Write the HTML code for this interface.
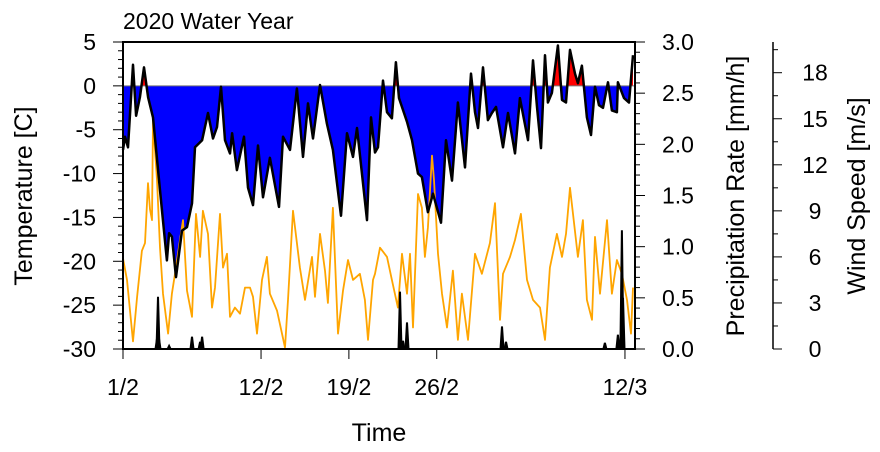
<!DOCTYPE html>
<html><head><meta charset="utf-8"><style>
html,body{margin:0;padding:0;background:#fff;}
svg{display:block;font-family:"Liberation Sans",Arial,sans-serif;}
</style></head><body>
<svg id="chart" width="880" height="452" viewBox="0 0 880 452" xmlns="http://www.w3.org/2000/svg">
<text x="123" y="29" font-size="23">2020 Water Year</text>
<g id="plot"></g>
<g id="axes"></g>
<text transform="translate(32,196) rotate(-90)" text-anchor="middle" font-size="25">Temperature [C]</text>
<text transform="translate(744,196) rotate(-90)" text-anchor="middle" font-size="25">Precipitation Rate [mm/h]</text>
<text transform="translate(865,196) rotate(-90)" text-anchor="middle" font-size="25">Wind Speed [m/s]</text>
<text x="379" y="441" text-anchor="middle" font-size="25">Time</text>
</svg>
<script>
const tempDays=[0,0.16,0.4,0.8,1.04,1.35,1.67,2.0,2.39,2.95,3.5,3.67,3.9,4.22,4.7,5.1,5.5,5.74,6.3,6.77,7.17,7.49,7.81,8.13,8.53,8.69,9.08,9.64,9.96,10.36,10.76,11.16,11.71,12.43,12.75,13.31,13.86,14.34,14.74,15.14,15.7,16.25,16.73,17.37,17.85,18.33,18.65,19.44,19.76,20.08,20.32,20.72,21.04,21.43,21.75,21.99,22.63,23.03,23.51,23.82,24.3,24.7,25.34,25.74,26.22,26.69,27.25,27.73,28.05,28.29,28.69,29.08,29.4,29.72,30.28,30.68,31.24,31.63,32.27,32.67,32.99,33.31,33.63,33.86,34.18,34.66,34.98,35.3,35.62,36.02,36.25,36.57,36.97,37.29,37.61,37.93,38.25,38.65,38.96,39.36,39.44,39.92,40.32,40.64];
const tempValues=[-7.3,-5.8,-7.0,2.4,-3.4,-1.3,2.1,-1.3,-3.6,-11.9,-19.9,-16.8,-17.2,-21.8,-16.5,-16.1,-13.4,-7.0,-6.2,-3.1,-6.0,-4.7,-0.1,-6.2,-7.7,-5.4,-9.6,-5.8,-11.6,-13.6,-6.8,-12.7,-8.2,-13.8,-5.8,-7.3,-0.3,-8.1,-2.0,-6.0,0.1,-4.3,-7.3,-14.8,-5.4,-8.1,-4.8,-15.3,-3.6,-7.6,-7.0,0.6,-3.0,-3.7,2.7,-1.4,-4.1,-6.2,-10.0,-10.4,-14.4,-12.3,-15.6,-6.2,-10.8,-1.9,-9.3,1.4,-3.0,-4.8,2.1,-3.9,-3.1,-2.4,-7.0,-3.1,-7.7,-1.4,-6.2,2.9,-2.4,-7.1,3.5,-1.9,-0.8,4.6,-1.6,-1.9,4.1,1.4,0.3,2.3,-3.6,-5.6,-0.1,-2.2,-2.5,0.4,-2.8,-3.0,0.4,-1.4,-1.9,3.5];
const windDays=[0,0.32,0.8,1.12,1.51,1.75,1.99,2.15,2.31,2.39,2.71,2.95,3.19,3.59,3.9,4.14,4.54,4.78,5.1,5.5,5.82,6.14,6.37,6.77,7.09,7.33,7.73,7.97,8.29,8.53,8.92,9.32,9.72,10.12,10.36,10.68,11.08,11.47,11.71,12.27,12.91,13.15,13.55,14.1,14.5,15.06,15.3,15.7,16.1,16.33,16.73,17.13,17.53,17.93,18.33,18.88,19.28,19.52,19.92,20.08,20.48,21.04,21.43,21.91,22.23,22.63,22.87,23.11,23.51,23.82,24.06,24.3,24.62,24.78,25.1,25.42,25.82,26.29,26.69,27.01,27.49,28.05,28.6,29.24,29.64,30.04,30.28,30.84,31.24,31.71,32.19,32.67,33.23,33.63,34.02,34.58,34.98,35.3,35.62,35.86,36.25,36.65,36.97,37.37,37.61,38.01,38.57,38.96,39.36,39.76,40.16,40.48,40.64];
const windValues=[5.9,4.5,0.5,3.4,6.4,6.9,10.8,9.1,8.4,14.9,11.0,6.6,3.6,1.0,3.6,4.9,7.1,8.4,3.8,2.1,8.8,6.0,9.0,7.5,2.7,4.0,8.8,5.3,6.2,2.1,2.7,2.3,4.0,4.0,3.4,1.0,4.5,6.0,3.6,2.5,0.1,3.2,9.0,5.3,3.2,6.0,3.4,7.5,5.1,3.0,9.2,1.0,3.8,5.8,4.5,4.9,3.2,0.6,4.5,4.9,6.6,6.0,4.5,2.7,6.2,3.6,6.2,1.4,10.1,9.2,6.0,7.9,12.6,11.0,6.2,3.6,1.4,5.1,0.6,3.6,0.6,6.2,4.9,6.9,9.5,1.9,4.9,6.0,7.1,8.8,4.5,3.2,2.7,0.6,5.3,7.5,6.0,7.5,10.5,8.8,6.0,8.4,3.2,1.9,7.3,3.6,8.4,3.6,5.8,4.9,3.2,1.0,4.0];
const precipDays=[2.71,2.79,2.87,3.67,5.5,6.14,6.3,22.07,22.31,22.63,30.2,30.52,38.4,39.44,39.76,39.84];
const precipValues=[0.1,0.51,0.1,0.03,0.12,0.07,0.12,0.56,0.08,0.26,0.22,0.07,0.06,0.14,1.16,0.5];
const xTickDays=[0,11,18,25,40];
const xTickLabels=["1/2","12/2","19/2","26/2","12/3"];
const tempTicks=[5,0,-5,-10,-15,-20,-25,-30];
const precipTicks=["0.0","0.5","1.0","1.5","2.0","2.5","3.0"];
const windTicks=[0,3,6,9,12,15,18];

const NS="http://www.w3.org/2000/svg";
const L=123,R=635,T=42,B=349;
const DMAX=40.8;
const xS=d=>L+(d/DMAX)*(R-L);
const yT=v=>T+(5-v)/35*(B-T);
const yP=v=>B-v/3*(B-T);
const yW=v=>B-v/20*(B-T);
function mk(tag,attrs,parent){const e=document.createElementNS(NS,tag);for(const k in attrs)e.setAttribute(k,attrs[k]);parent.appendChild(e);return e;}
const plot=document.getElementById('plot');
const axes=document.getElementById('axes');
const defs=mk('defs',{},plot);
const cpA=mk('clipPath',{id:'above'},defs);mk('rect',{x:L,y:T,width:R-L,height:yT(0)-T},cpA);
const cpB=mk('clipPath',{id:'below'},defs);mk('rect',{x:L,y:yT(0),width:R-L,height:B-yT(0)},cpB);
const cpP=mk('clipPath',{id:'plotclip'},defs);mk('rect',{x:L,y:T,width:R-L,height:B-T},cpP);
let pts=tempDays.map((d,i)=>xS(d).toFixed(1)+','+yT(tempValues[i]).toFixed(1));
const areaD='M'+xS(tempDays[0])+','+yT(0)+' L'+pts.join(' L')+' L'+xS(tempDays[tempDays.length-1])+','+yT(0)+' Z';
const fb=mk('path',{d:areaD,fill:'#0000ff','clip-path':'url(#below)'},plot);


const fa=mk('path',{d:areaD,fill:'#ff0000','clip-path':'url(#above)'},plot);


const zl=mk('line',{x1:L,x2:R,y1:yT(0),y2:yT(0),stroke:'#777','stroke-width':1},plot);


const wl=mk('polyline',{points:windDays.map((d,i)=>xS(d).toFixed(1)+','+yW(windValues[i]).toFixed(1)).join(' '),fill:'none',stroke:'#ffa500','stroke-width':1.8,'stroke-linejoin':'round','clip-path':'url(#plotclip)'},plot);


const tl=mk('polyline',{points:pts.join(' '),fill:'none',stroke:'#000','stroke-width':2.5,'stroke-linejoin':'round'},plot);


precipDays.forEach((d,i)=>{
  const x=xS(d);
  const p=mk('path',{d:`M${(x-1.5).toFixed(1)},${B} L${x.toFixed(1)},${yP(precipValues[i]).toFixed(1)} L${(x+1.5).toFixed(1)},${B}`,fill:'#000',stroke:'#000','stroke-width':2},plot);
  
  
});
const fr=mk('rect',{x:L,y:T,width:R-L,height:B-T,fill:'none',stroke:'#000','stroke-width':2},axes);


for(let v=-30;v<=5;v++){const y=yT(v);const maj=v%5===0;mk('line',{x1:L-(maj?10:5),x2:L,y1:y,y2:y,stroke:'#000','stroke-width':1},axes);}
tempTicks.forEach(v=>{const t=mk('text',{x:96,y:yT(v)+8,'text-anchor':'end','font-size':23},axes);t.textContent=String(v);

});
for(let k=0;k<=30;k++){const y=yP(k/10);const maj=k%5===0;mk('line',{x1:R,x2:R+(maj?10:5),y1:y,y2:y,stroke:'#000','stroke-width':1},axes);}
precipTicks.forEach(s=>{const t=mk('text',{x:662,y:yP(parseFloat(s))+8,'font-size':23},axes);t.textContent=s;

});
const WX=773;
const wa=mk('line',{x1:WX,x2:WX,y1:T,y2:B,stroke:'#000','stroke-width':1.5},axes);


for(let k=0;k<=13;k++){const v=k*1.5;const y=yW(v);const maj=k%2===0;mk('line',{x1:WX,x2:WX+(maj?9:5),y1:y,y2:y,stroke:'#000','stroke-width':1},axes);}
windTicks.forEach(v=>{const t=mk('text',{x:815,y:yW(v)+8,'text-anchor':'middle','font-size':23},axes);t.textContent=String(v);

});
xTickDays.forEach((d,i)=>{const x=xS(d);mk('line',{x1:x,x2:x,y1:B,y2:B+10,stroke:'#000','stroke-width':1},axes);
const t=mk('text',{x:x,y:395,'text-anchor':'middle','font-size':23},axes);t.textContent=xTickLabels[i];

});
</script>
</body></html>
